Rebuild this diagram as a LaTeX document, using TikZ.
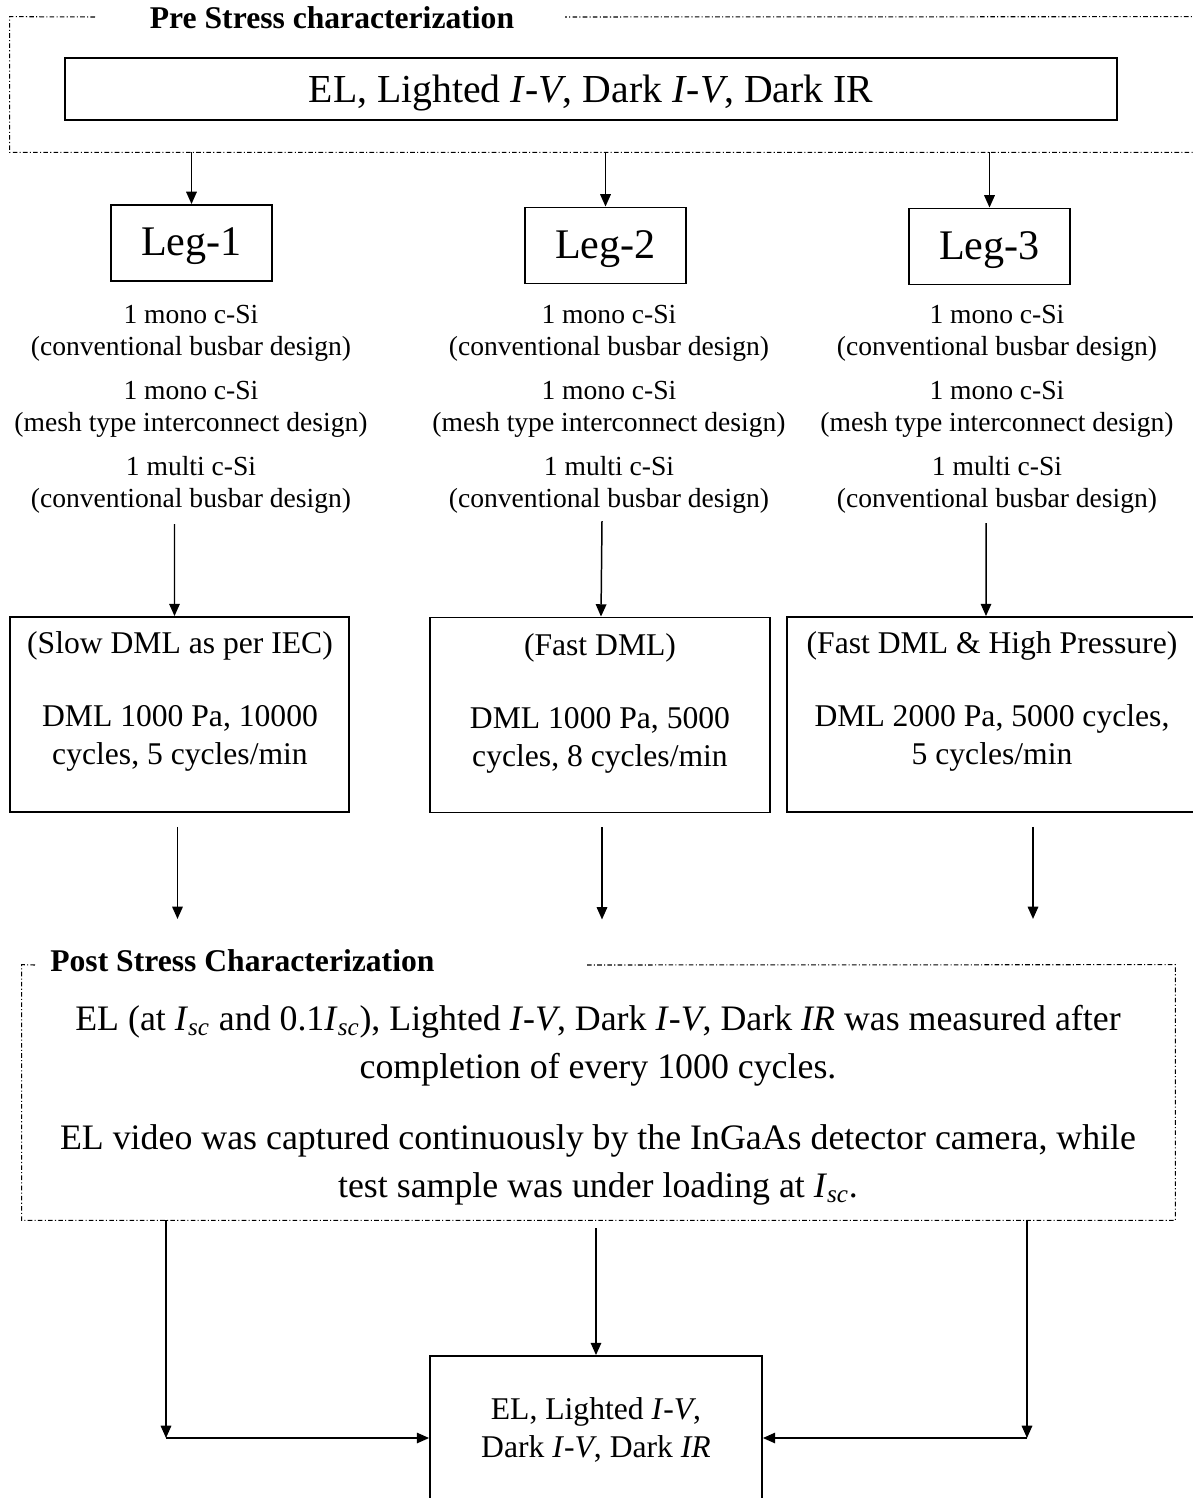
\documentclass[tikz,border=0pt]{standalone}
\usepackage{fontspec}
\setmainfont{Liberation Serif}
\usetikzlibrary{arrows.meta}
\usetikzlibrary{fit, positioning}

\newcommand{\IV}{\textit{I}-\textit{V}}
\newcommand{\Isc}{\textit{I}\textsubscript{\textit{sc}}}

\begin{document}
\begin{tikzpicture}[x=0.02cm, y=-0.02cm,
  box/.style={draw, line width=1.1pt, inner sep=0pt},
  frame/.style={line width=0.6pt, dash pattern=on 2.6pt off 1.3pt on 0.6pt off 1.3pt},
  arr/.style={-{Triangle[length=7pt,width=6pt]}, line width=0.85pt},
  ttl/.style={font=\fontsize{18}{21}\selectfont\bfseries, inner sep=0pt},
  legbox/.style={box, minimum width=3.22cm, minimum height=1.52cm, text height=17pt, text depth=2.6pt, font=\fontsize{24}{28}\selectfont},
  legtxt/.style={align=center, font=\fontsize{15.7}{18.2}\selectfont},
  dmlbox/.style={box, minimum height=3.9cm},
  dmltxt/.style={align=center, font=\fontsize{18}{21.6}\selectfont}
  ]
  \useasboundingbox (0,0) rectangle (1193,1498);
  \clip (0,0) rectangle (1193,1498);

  %Pre stress block
  \node[fit={(10,17) (1205,152)}, inner sep=0pt] (pre) {};
  \node[ttl] (pretitle) at (332,18) {Pre Stress characterization};
  \draw[frame] (95,17) -- (pre.north west) |- (pre.south east) -- (pre.north east) -- (565,17);
  \node[box, minimum width=21.04cm, minimum height=1.24cm, text height=16pt, text depth=1pt, font=\fontsize{22.6}{27}\selectfont] (prebox) at (591,89) {EL, Lighted \IV, Dark \IV, Dark IR};

  %Legs
  \node[legbox] (leg1) at (191.5,243) {Leg-1};
  \node[legbox] (leg2) at (605.5,245.5) {Leg-2};
  \node[legbox] (leg3) at (989.5,246.5) {Leg-3};
  \foreach \l in {1,2,3}
    \draw[arr] (leg\l |- pre.south) -- (leg\l.north);

  %Samples per leg
  \foreach \l/\x in {1/191,2/609,3/997}
  {
    \node[legtxt] (samp\l) at (\x,409) {1 mono c-Si\\(conventional busbar design)\\[6.8pt]
      1 mono c-Si\\(mesh type interconnect design)\\[6.8pt]
      1 multi c-Si\\(conventional busbar design)};
  }

  %Loading boxes
  \node[dmlbox, minimum width=6.78cm] (dml1) at (179.5,714.5) {};
  \node[dmlbox, minimum width=6.8cm] (dml2) at (600,715) {};
  \node[dmlbox, minimum width=8.2cm] (dml3) at (992,714.5) {};
  \node[dmltxt] (load1) at (180,701) {(Slow DML as per IEC)\\[19.9pt]DML 1000 Pa, 10000\\cycles, 5 cycles/min};
  \node[dmltxt] (load2) at (600,703) {(Fast DML)\\[19.9pt]DML 1000 Pa, 5000\\cycles, 8 cycles/min};
  \node[dmltxt] (load3) at (992,701) {(Fast DML \& High Pressure)\\[19.9pt]DML 2000 Pa, 5000 cycles,\\5 cycles/min};
  \draw[arr] (samp1.south -| dml1.north) ++(-5,5) -- ([xshift=-0.1cm]dml1.north);
  \draw[arr] (samp2.south -| dml2.north) ++(2,2) -- ([xshift=0.02cm]dml2.north);
  \draw[arr] (samp3.south -| dml3.north) ++(-6,4) -- ([xshift=-0.12cm]dml3.north);

  \draw[arr] (dml1.south) ++(-2,14) -- ++(0,92);
  \draw[arr] (dml2.south) ++(2,14) -- ++(0,92);
  \draw[arr] (dml3.south) ++(41,14) -- ++(0,92);

  %Post stress block
  \node[fit={(22,965) (1175,1220)}, inner sep=0pt] (post) {};
  \node[ttl, anchor=west] (posttitle) at (50,961) {Post Stress Characterization};
  \draw[frame] (35,965) -- (post.north west) |- (post.south east) -- (post.north east) -- (585,965);
  \node[align=center, font=\fontsize{20.4}{27.3}\selectfont] (posttxt) at (598,1105)
    {EL (at \Isc{} and 0.1\Isc), Lighted \IV, Dark \IV, Dark \textit{IR} was measured after\\
     completion of every 1000 cycles.\\[13pt]
     EL video was captured continuously by the InGaAs detector camera, while\\
     test sample was under loading at \Isc.};

  %Final measurement
  \node[box, minimum width=6.64cm, minimum height=3.28cm] (res) at (596,1438) {};
  \node[align=center, font=\fontsize{18}{21.6}\selectfont] (restxt) at (596,1430) {EL, Lighted \IV,\\Dark \IV, Dark \textit{IR}};
  \coordinate (lcorner) at (166,1438);
  \coordinate (rcorner) at (1027,1438);
  \draw[arr] (post.south -| lcorner) -- (lcorner);
  \draw[arr] (lcorner) -- (res.west);
  \draw[arr] (post.south -| res.north) ++(0,8) -- (res.north);
  \draw[arr] (post.south -| rcorner) -- (rcorner);
  \draw[arr] (rcorner) -- (res.east);

\end{tikzpicture}
\end{document}
